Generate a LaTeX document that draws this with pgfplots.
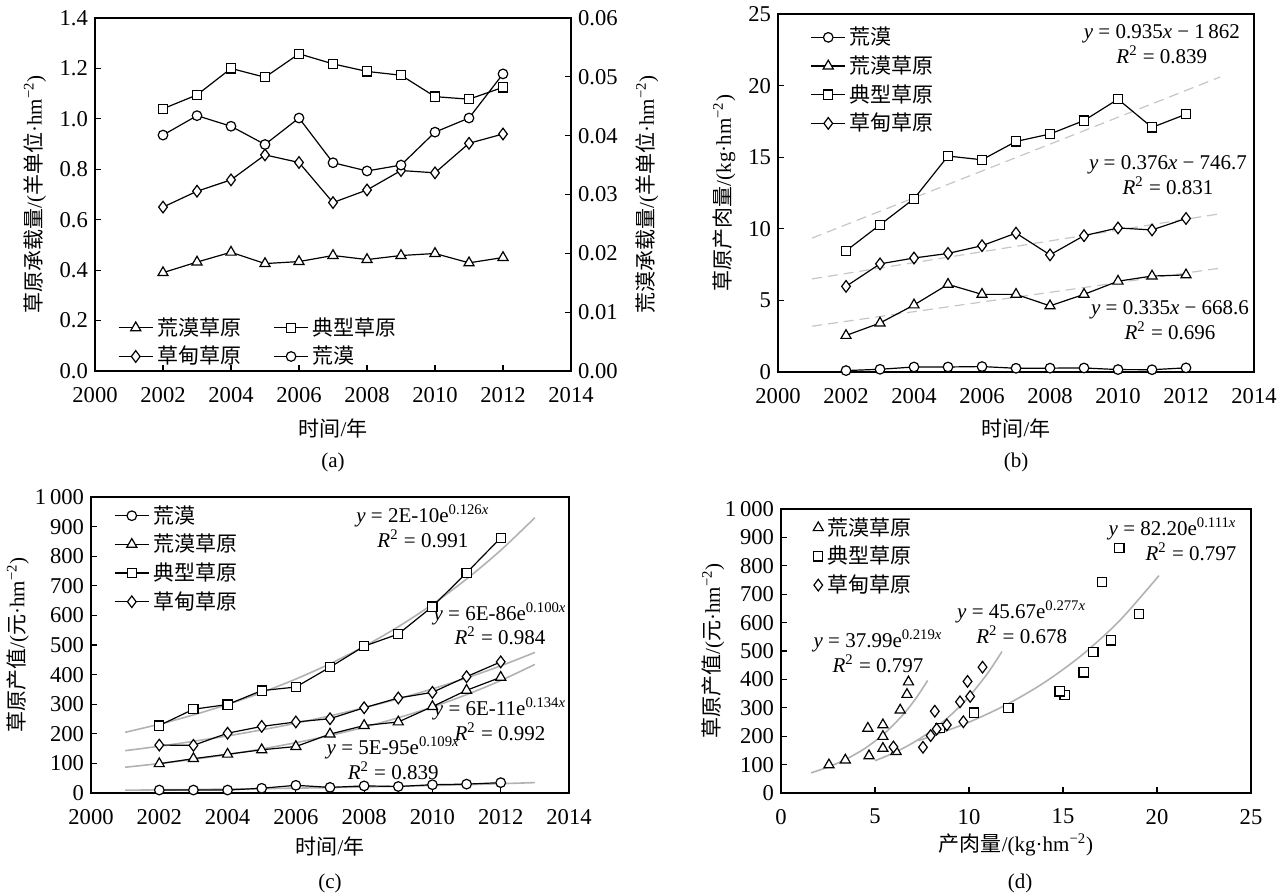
\documentclass[border=0pt]{standalone}
\usepackage{fontspec}
\setmainfont{Liberation Serif}
\newfontfamily\cjk{Noto Sans CJK SC}
\usepackage{pgfplots}
\pgfplotsset{compat=1.18}

\newcommand{\fs}{\fontsize{10.5}{12.4}\selectfont}
\newcommand{\fn}{\fontsize{11.3}{13}\selectfont}
\newcommand{\hmu}{hm\textsuperscript{−2}}

\pgfplotsset{
  panel/.style={
    scale only axis, clip=false,
    axis line style={line width=0.9pt},
    tick align=inside, major tick length=3pt,
    every tick/.style={black, line width=0.6pt},
    xtick pos=left, ytick pos=left,
    tick label style={font=\fn},
    x tick label style={yshift=-4.5pt},
    label style={font=\fs},
    /pgf/number format/assume math mode=true,
    /pgf/number format/1000 sep={},
    legend cell align=left,
    legend style={draw=none, fill=none, font=\fs\cjk, row sep=0pt},
  },
  ser/.style={black, line width=0.6pt, mark options={solid, fill=white, line width=0.6pt}},
  tri/.style={mark=triangle*, mark size=2.9pt},
  sq/.style={mark=square*, mark size=2.3pt},
  dia/.style={mark=diamond*, mark size=2.9pt},
  cir/.style={mark=*, mark size=2.4pt},
  trendb/.style={gray!45, dash pattern=on 5pt off 3pt, line width=0.6pt, forget plot},
  trendc/.style={black!30, line width=0.8pt, smooth, forget plot},
}

\begin{document}
\begin{tikzpicture}
\useasboundingbox (0pt,0pt) rectangle (638.5pt,447.5pt);

% ---------------- (a) carrying capacity ----------------
\begin{axis}[panel, at={(47.5pt,262pt)}, anchor=south west, width=238pt, height=176.5pt,
  xmin=2000, xmax=2014, xtick={2000,2002,...,2014},
  ymin=0, ymax=1.4, ytick={0,0.2,0.4,0.6,0.8,1.0,1.2,1.4},
  y tick label style={/pgf/number format/fixed, /pgf/number format/fixed zerofill, /pgf/number format/precision=1},
  xlabel={{\cjk 时间}/{\cjk 年}},
  xlabel style={at={(axis description cs:0.5,-0.163)}, anchor=center},
  ylabel={{\cjk 草原承载量}/({\cjk 羊单位}·\hmu)},
  ylabel style={at={(axis description cs:-0.126,0.5)}, anchor=center},
  legend columns=2,
  legend style={at={(0.035,-0.012)}, anchor=south west,
    /tikz/every even column/.append style={column sep=14pt}},
]
\addplot[ser, tri] coordinates {(2002,0.39) (2003,0.432) (2004,0.471) (2005,0.426) (2006,0.434) (2007,0.458) (2008,0.442) (2009,0.458) (2010,0.466) (2011,0.429) (2012,0.45)};
\addlegendentry{荒漠草原}
\addplot[ser, sq] coordinates {(2002,1.04) (2003,1.095) (2004,1.20) (2005,1.165) (2006,1.258) (2007,1.218) (2008,1.188) (2009,1.173) (2010,1.088) (2011,1.078) (2012,1.125)};
\addlegendentry{典型草原}
\addplot[ser, dia] coordinates {(2002,0.65) (2003,0.713) (2004,0.758) (2005,0.857) (2006,0.827) (2007,0.668) (2008,0.718) (2009,0.795) (2010,0.786) (2011,0.903) (2012,0.94)};
\addlegendentry{草甸草原}
\addlegendimage{ser, cir}
\addlegendentry{荒漠}
\end{axis}
\begin{axis}[panel, at={(47.5pt,262pt)}, anchor=south west, width=238pt, height=176.5pt,
  xmin=2000, xmax=2014, axis x line=none,
  axis y line*=right, ytick pos=right,
  ymin=0, ymax=0.06, ytick={0,0.01,0.02,0.03,0.04,0.05,0.06},
  scaled y ticks=false,
  y tick label style={/pgf/number format/fixed, /pgf/number format/fixed zerofill, /pgf/number format/precision=2},
  ylabel={{\cjk 荒漠承载量}/({\cjk 羊单位}·\hmu)},
  ylabel style={at={(axis description cs:1.16,0.5)}, anchor=center},
]
\addplot[ser, cir] coordinates {(2002,0.0401) (2003,0.0434) (2004,0.0416) (2005,0.0385) (2006,0.0430) (2007,0.0354) (2008,0.0340) (2009,0.0350) (2010,0.0406) (2011,0.0430) (2012,0.0505)};
\end{axis}
\node[font=\fs] at (166.5pt,216.5pt) {(a)};

% ---------------- (b) meat production ----------------
\begin{axis}[panel, at={(389pt,261.5pt)}, anchor=south west, width=238pt, height=179pt,
  xmin=2000, xmax=2014, xtick={2000,2002,...,2014},
  ymin=0, ymax=25, ytick={0,5,10,15,20,25},
  xlabel={{\cjk 时间}/{\cjk 年}},
  xlabel style={at={(axis description cs:0.5,-0.158)}, anchor=center},
  ylabel={{\cjk 草原产肉量}/(kg·\hmu)},
  ylabel style={at={(axis description cs:-0.113,0.5)}, anchor=center},
  legend style={at={(0.055,0.987)}, anchor=north west},
]
\addplot[trendb] coordinates {(2001,9.35) (2013,20.6)};
\addplot[trendb] coordinates {(2001,6.5) (2013,11.05)};
\addplot[trendb] coordinates {(2001,3.2) (2013,7.25)};
\addplot[ser, cir] coordinates {(2002,0.10) (2003,0.19) (2004,0.35) (2005,0.35) (2006,0.38) (2007,0.26) (2008,0.27) (2009,0.28) (2010,0.17) (2011,0.16) (2012,0.29)};
\addlegendentry{荒漠}
\addplot[ser, tri] coordinates {(2002,2.55) (2003,3.42) (2004,4.68) (2005,6.12) (2006,5.42) (2007,5.42) (2008,4.62) (2009,5.42) (2010,6.34) (2011,6.70) (2012,6.78)};
\addlegendentry{荒漠草原}
\addplot[ser, sq] coordinates {(2002,8.46) (2003,10.28) (2004,12.10) (2005,15.08) (2006,14.82) (2007,16.10) (2008,16.62) (2009,17.56) (2010,19.05) (2011,17.08) (2012,18.00)};
\addlegendentry{典型草原}
\addplot[ser, dia] coordinates {(2002,5.98) (2003,7.55) (2004,7.96) (2005,8.28) (2006,8.82) (2007,9.70) (2008,8.18) (2009,9.52) (2010,10.06) (2011,9.92) (2012,10.72)};
\addlegendentry{草甸草原}
\node[font=\fs, align=center] at (axis cs:2011.29,22.87) {\textit{y} = 0.935\textit{x} − 1\,862\\\textit{R}\textsuperscript{2} = 0.839};
\node[font=\fs, align=center] at (axis cs:2011.47,13.75) {\textit{y} = 0.376\textit{x} − 746.7\\\textit{R}\textsuperscript{2} = 0.831};
\node[font=\fs, align=center] at (axis cs:2011.53,3.63) {\textit{y} = 0.335\textit{x} − 668.6\\\textit{R}\textsuperscript{2} = 0.696};
\end{axis}
\node[font=\fs] at (508pt,216.5pt) {(b)};

% ---------------- (c) output value ----------------
\begin{axis}[panel, at={(45.5pt,51pt)}, anchor=south west, width=239pt, height=148pt,
  xmin=2000, xmax=2014, xtick={2000,2002,...,2014},
  ymin=0, ymax=1000, ytick={0,100,...,1000},
  yticklabels={0,100,200,300,400,500,600,700,800,900,1\,000},
  xlabel={{\cjk 时间}/{\cjk 年}},
  xlabel style={at={(axis description cs:0.5,-0.182)}, anchor=center},
  ylabel={{\cjk 草原产值}/({\cjk 元}·\hmu)},
  ylabel style={at={(axis description cs:-0.153,0.5)}, anchor=center},
  legend style={at={(0.035,1.0)}, anchor=north west},
]
\addplot[trendc] coordinates {(2001,205) (2002,232.5) (2003,263.8) (2004,299.2) (2005,339.4) (2006,385.0) (2007,436.7) (2008,495.3) (2009,561.8) (2010,637.3) (2011,722.9) (2012,820.0) (2013,930.1)};
\addplot[trendc] coordinates {(2001,143.0) (2002,158.0) (2003,174.7) (2004,193.0) (2005,213.3) (2006,235.8) (2007,260.6) (2008,288.0) (2009,318.3) (2010,351.7) (2011,388.7) (2012,429.6) (2013,474.8)};
\addplot[trendc] coordinates {(2001,87.0) (2002,99.5) (2003,113.7) (2004,130.0) (2005,148.7) (2006,170.0) (2007,194.4) (2008,222.3) (2009,254.2) (2010,290.6) (2011,332.3) (2012,379.9) (2013,434.4)};
\addplot[trendc] coordinates {(2001,9.5) (2002,10.6) (2003,11.8) (2004,13.2) (2005,14.7) (2006,16.4) (2007,18.3) (2008,20.4) (2009,22.7) (2010,25.3) (2011,28.2) (2012,31.5) (2013,35.1)};
\addplot[ser, cir] coordinates {(2002,10) (2003,10) (2004,10) (2005,16) (2006,26) (2007,19) (2008,24) (2009,22) (2010,28) (2011,30) (2012,35)};
\addlegendentry{荒漠}
\addplot[ser, tri] coordinates {(2002,99) (2003,116) (2004,131) (2005,146) (2006,157) (2007,199) (2008,228) (2009,240) (2010,292) (2011,347) (2012,391)};
\addlegendentry{荒漠草原}
\addplot[ser, sq] coordinates {(2002,228) (2003,283) (2004,299) (2005,346) (2006,358) (2007,425) (2008,496) (2009,537) (2010,630) (2011,744) (2012,862)};
\addlegendentry{典型草原}
\addplot[ser, dia] coordinates {(2002,162) (2003,161) (2004,202) (2005,225) (2006,240) (2007,251) (2008,288) (2009,321) (2010,340) (2011,393) (2012,443)};
\addlegendentry{草甸草原}
\node[font=\fs, align=center] at (axis cs:2009.72,901) {\textit{y} = 2E-10e\textsuperscript{0.126\textit{x}}\\\textit{R}\textsuperscript{2} = 0.991};
\node[font=\fs, align=center] at (axis cs:2011.98,572) {\textit{y} = 6E-86e\textsuperscript{0.100\textit{x}}\\\textit{R}\textsuperscript{2} = 0.984};
\node[font=\fs, align=center] at (axis cs:2011.98,250) {\textit{y} = 6E-11e\textsuperscript{0.134\textit{x}}\\\textit{R}\textsuperscript{2} = 0.992};
\node[font=\fs, align=center] at (axis cs:2008.85,118) {\textit{y} = 5E-95e\textsuperscript{0.109\textit{x}}\\\textit{R}\textsuperscript{2} = 0.839};
\end{axis}
\node[font=\fs] at (165pt,6pt) {(c)};

% ---------------- (d) value vs meat production ----------------
\begin{axis}[panel, at={(390.5pt,51pt)}, anchor=south west, width=235pt, height=142pt,
  xmin=0, xmax=25, xtick={0,5,...,25},
  ymin=0, ymax=1000, ytick={0,100,...,1000},
  yticklabels={0,100,200,300,400,500,600,700,800,900,1\,000},
  xlabel={{\cjk 产肉量}/(kg·\hmu)},
  xlabel style={at={(axis description cs:0.5,-0.183)}, anchor=center},
  ylabel={{\cjk 草原产值}/({\cjk 元}·\hmu)},
  ylabel style={at={(axis description cs:-0.144,0.5)}, anchor=center},
  legend style={at={(0.055,1.0)}, anchor=north west},
]
\addplot[trendc] coordinates {(1.6,71.1) (2.5,91.3) (3.5,120.4) (4.5,158.8) (5.5,209.5) (6.5,276.4) (7.2,335.6) (7.8,396.2)};
\addplot[trendc] coordinates {(5.0,113.6) (6.0,141.4) (7.0,176.0) (8.0,219.1) (9.0,272.7) (10.0,339.4) (11.0,422.5) (11.75,498.0)};
\addplot[trendc] coordinates {(7.3,184.8) (8,199.8) (10,249.4) (12,311.4) (14,388.8) (16,485.5) (18,606.2) (20.1,765.3)};
\addplot[ser, tri, only marks] coordinates {(2.55,99) (3.42,116) (4.68,131) (6.12,146) (5.42,157) (5.42,199) (4.62,228) (5.42,240) (6.34,292) (6.70,347) (6.78,391)};
\addlegendentry{荒漠草原}
\addplot[ser, sq, only marks] coordinates {(8.46,228) (10.28,283) (12.10,299) (15.08,346) (14.82,358) (16.10,425) (16.62,496) (17.56,537) (19.05,630) (17.08,744) (18.00,862)};
\addlegendentry{典型草原}
\addplot[ser, dia, only marks] coordinates {(5.98,162) (7.55,161) (7.96,202) (8.28,225) (8.82,240) (9.70,251) (8.18,288) (9.52,321) (10.06,340) (9.92,393) (10.72,443)};
\addlegendentry{草甸草原}
\node[font=\fs, align=right, anchor=east] at (axis cs:24.6,893) {\textit{y} = 82.20e\textsuperscript{0.111\textit{x}}\\\textit{R}\textsuperscript{2} = 0.797};
\node[font=\fs, align=center] at (axis cs:12.8,602) {\textit{y} = 45.67e\textsuperscript{0.277\textit{x}}\\\textit{R}\textsuperscript{2} = 0.678};
\node[font=\fs, align=center] at (axis cs:5.16,500) {\textit{y} = 37.99e\textsuperscript{0.219\textit{x}}\\\textit{R}\textsuperscript{2} = 0.797};
\end{axis}
\node[font=\fs] at (510pt,6pt) {(d)};
\end{tikzpicture}
\end{document}
